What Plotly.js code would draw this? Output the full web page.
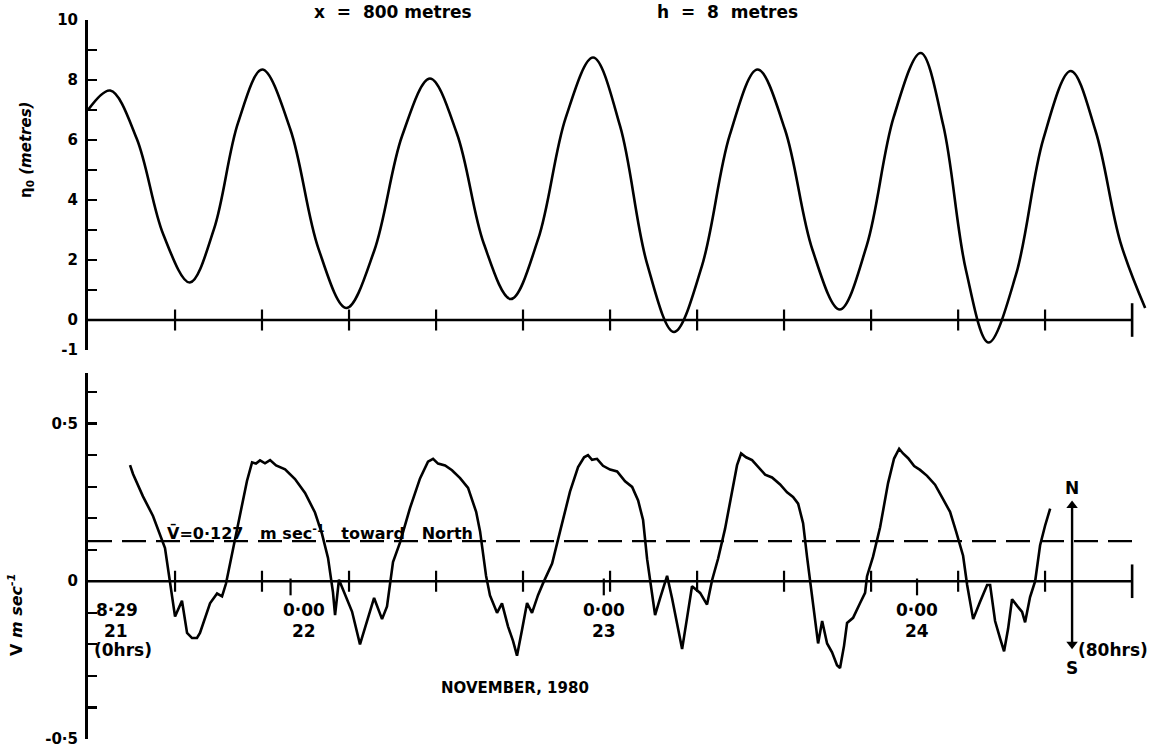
<!DOCTYPE html>
<html>
<head>
<meta charset="utf-8">
<script src="https://cdn.plot.ly/plotly-3.0.1.min.js"></script>
<style>html,body{margin:0;padding:0;background:#fff;}#chart{width:1160px;height:751px;}</style>
</head>
<body>
<div id="chart"></div>
<script>
// ---- data (hours after 8:29, 21 Nov 1980) ----
const tideHours = [0, 1.7, 3.73, 5.77, 7.8, 9.65, 11.5, 13.35, 15.5, 17.65, 19.8, 21.93, 24.07, 26.2, 28.27, 30.33, 32.4, 34.5, 36.6, 38.7, 40.77, 42.83, 44.9, 47.03, 49.17, 51.3, 53.4, 55.5, 57.6, 59.67, 61.73, 63.8, 65.53, 67.27, 69.0, 71.1, 73.2, 75.3, 77.2, 79.1, 81.0];
const tideLevel = [7.0, 7.65, 6.05, 2.85, 1.25, 3.03, 6.58, 8.35, 6.36, 2.39, 0.4, 2.31, 6.14, 8.05, 6.21, 2.54, 0.7, 2.71, 6.74, 8.75, 6.46, 1.89, -0.4, 1.79, 6.16, 8.35, 6.35, 2.35, 0.35, 2.49, 6.76, 8.9, 6.49, 1.66, -0.75, 1.51, 6.04, 8.3, 6.3, 2.6, 0.4];

const velHours = [3.22, 3.45, 4.21, 4.98, 5.90, 6.28, 6.67, 7.20, 7.59, 7.97, 8.35, 8.58, 9.35, 9.89, 10.27, 10.57, 11.03, 11.65, 12.18, 12.57, 12.87, 13.18, 13.56, 13.95, 14.41, 15.10, 15.86, 16.63, 17.39, 17.93, 18.39, 18.77, 18.93, 19.23, 20.23, 20.84, 21.38, 21.92, 22.53, 22.91, 23.37, 23.91, 24.67, 25.44, 26.05, 26.44, 26.82, 27.36, 27.89, 28.51, 29.12, 29.74, 30.04, 30.50, 30.80, 31.34, 31.72, 32.18, 32.57, 32.87, 33.26, 33.64, 34.02, 34.48, 34.87, 35.56, 36.17, 36.93, 37.55, 38.01, 38.31, 38.62, 39.00, 39.46, 40.00, 40.54, 41.15, 41.69, 42.15, 42.53, 42.84, 43.14, 43.45, 43.83, 44.37, 44.75, 45.13, 45.52, 45.90, 46.28, 46.90, 47.43, 47.82, 48.28, 48.81, 49.35, 49.73, 50.04, 50.42, 50.88, 51.34, 51.88, 52.41, 53.03, 53.56, 54.02, 54.41, 54.79, 55.10, 55.40, 55.71, 55.94, 56.25, 56.63, 57.01, 57.39, 57.62, 57.93, 58.16, 58.62, 59.16, 59.54, 59.69, 60.15, 60.69, 61.30, 61.76, 62.15, 62.45, 62.84, 63.30, 63.75, 64.29, 64.90, 65.44, 66.05, 66.51, 66.82, 67.05, 67.36, 67.82, 68.35, 68.89, 69.12, 69.50, 69.89, 70.19, 70.50, 70.80, 71.19, 71.57, 71.80, 72.18, 72.57, 72.95, 73.33, 73.72];
const velValues = [0.368, 0.34, 0.269, 0.207, 0.105, -0.01, -0.112, -0.062, -0.164, -0.18, -0.18, -0.164, -0.07, -0.039, -0.048, -0.008, 0.086, 0.21, 0.318, 0.377, 0.373, 0.383, 0.374, 0.384, 0.367, 0.355, 0.324, 0.28, 0.218, 0.15, 0.074, -0.035, -0.107, 0.005, -0.096, -0.2, -0.127, -0.053, -0.12, -0.08, 0.061, 0.123, 0.232, 0.326, 0.379, 0.388, 0.373, 0.367, 0.352, 0.327, 0.296, 0.22, 0.158, 0.017, -0.045, -0.10, -0.07, -0.143, -0.19, -0.236, -0.153, -0.069, -0.10, -0.044, -0.006, 0.056, 0.158, 0.284, 0.362, 0.393, 0.40, 0.385, 0.388, 0.366, 0.354, 0.348, 0.317, 0.299, 0.256, 0.194, 0.07, -0.023, -0.107, -0.054, 0.017, -0.054, -0.131, -0.215, -0.116, -0.016, -0.037, -0.074, 0.004, 0.072, 0.166, 0.29, 0.368, 0.405, 0.393, 0.384, 0.362, 0.338, 0.329, 0.307, 0.282, 0.267, 0.246, 0.184, 0.075, -0.018, -0.132, -0.197, -0.126, -0.197, -0.225, -0.266, -0.275, -0.204, -0.132, -0.116, -0.069, -0.037, 0.016, 0.078, 0.171, 0.311, 0.389, 0.42, 0.405, 0.39, 0.365, 0.353, 0.334, 0.306, 0.266, 0.22, 0.158, 0.112, 0.081, -0.012, -0.12, -0.065, -0.012, -0.012, -0.126, -0.182, -0.222, -0.15, -0.057, -0.078, -0.097, -0.13, -0.05, 0.0, 0.114, 0.176, 0.23];

const meanV = 0.127;
const axisTickHours = [6.67, 13.33, 20, 26.67, 33.33, 40, 46.67, 53.33, 60, 66.67, 73.33];
const axisEndHours = 80;
const dayTickHours = [15.52, 39.52, 63.52];
const dayLabels = ['22', '23', '24'];
const startLabels = ['8·29', '21', '(0hrs)'];
const northSouthHour = 75.4;
const northSouthV = [-0.2, 0.24];

const tideTicks = [-1, 0, 2, 4, 6, 8, 10];
const tideTickText = ['-1', '0', '2', '4', '6', '8', '10'];
const velTicks = [-0.5, 0, 0.5];
const velTickText = ['-0·5', '0', '0·5'];

// ---- drawing ----
const FONT = 'DejaVu Sans';
const K = 'black';
const zeros = n => n.map(() => 0);

const traces = [
  {x: tideHours, y: tideLevel, xaxis: 'x', yaxis: 'y', mode: 'lines', line: {shape: 'spline', smoothing: 1, width: 2.6, color: K}},
  {x: [0, axisEndHours], y: [0, 0], xaxis: 'x', yaxis: 'y', mode: 'lines', line: {width: 2.6, color: K}},
  {x: axisTickHours, y: zeros(axisTickHours), xaxis: 'x', yaxis: 'y', mode: 'markers', marker: {symbol: 'line-ns', size: 15, line: {width: 2.2, color: K}}},
  {x: [axisEndHours], y: [0], xaxis: 'x', yaxis: 'y', mode: 'markers', marker: {symbol: 'line-ns', size: 24, line: {width: 2.6, color: K}}},

  {x: velHours, y: velValues, xaxis: 'x', yaxis: 'y2', mode: 'lines', line: {width: 2.6, color: K}},
  {x: [0, axisEndHours], y: [0, 0], xaxis: 'x', yaxis: 'y2', mode: 'lines', line: {width: 2.6, color: K}},
  {x: axisTickHours, y: zeros(axisTickHours), xaxis: 'x', yaxis: 'y2', mode: 'markers', marker: {symbol: 'line-ns', size: 15, line: {width: 2.2, color: K}}},
  {x: [axisEndHours], y: [0], xaxis: 'x', yaxis: 'y2', mode: 'markers', marker: {symbol: 'line-ns', size: 24, line: {width: 2.6, color: K}}},
  {x: dayTickHours, y: dayTickHours.map(() => -0.018), xaxis: 'x', yaxis: 'y2', mode: 'markers', marker: {symbol: 'line-ns', size: 12, line: {width: 2.2, color: K}}},
  {x: [0, axisEndHours], y: [meanV, meanV], xaxis: 'x', yaxis: 'y2', mode: 'lines', line: {width: 2.2, color: K, dash: '24px,10px'}},
  {x: [northSouthHour, northSouthHour], y: northSouthV, xaxis: 'x', yaxis: 'y2', mode: 'lines+markers',
   line: {width: 2.4, color: K}, marker: {symbol: ['triangle-down', 'triangle-up'], size: 10, color: K}}
];

const bold = (s) => '<b>' + s + '</b>';
const ann = [];
function addText(text, x, y, opts) {
  ann.push(Object.assign({text: text, x: x, y: y, xref: 'x', yref: 'y2', showarrow: false,
    xanchor: 'center', yanchor: 'middle', font: {family: FONT, size: 17, color: K, weight: 'bold'}}, opts || {}));
}
// labels under the velocity axis
addText(bold(startLabels[0]), 2.22, -0.092);
addText(bold(startLabels[1]), 2.15, -0.158);
addText(bold(startLabels[2]), 2.68, -0.218);
dayTickHours.forEach((h, i) => {
  const cx = h + (i === 0 ? 1.0 : 0);
  addText(bold('0·00'), cx, -0.092);
  addText(bold(dayLabels[i]), cx, -0.158);
});
addText(bold('N'), northSouthHour, 0.295);
addText(bold('S'), northSouthHour, -0.275);
addText(bold('(80hrs)'), northSouthHour + 0.3, -0.218, {xanchor: 'left'});
addText(bold('V\u0304=0·127\u00a0\u00a0\u00a0m\u00a0sec<sup>-1</sup>\u00a0\u00a0\u00a0toward\u00a0\u00a0\u00a0North'), 5.9, meanV,
  {xanchor: 'left', yanchor: 'bottom', yshift: -4, font: {family: FONT, size: 16, color: K, weight: 'bold'}});

// paper-positioned texts (pixel helpers: plot spans x 88..1153, y 20..739)
function paperText(text, px, py, opts) {
  ann.push(Object.assign({text: text, x: (px - 88) / 1065, y: (739 - py) / 719, xref: 'paper', yref: 'paper',
    showarrow: false, xanchor: 'center', yanchor: 'middle', font: {family: FONT, size: 15, color: K, weight: 'bold'}}, opts || {}));
}
paperText(bold('x\u00a0\u00a0=\u00a0\u00a0800\u00a0metres'), 393, 0, {yanchor: 'top', font: {family: FONT, size: 17, color: K, weight: 'bold'}});
paperText(bold('h\u00a0\u00a0=\u00a0\u00a08\u00a0\u00a0metres'), 727, 0, {yanchor: 'top', font: {family: FONT, size: 17, color: K, weight: 'bold'}});
paperText(bold('η<sub>0</sub> <i>(metres)</i>'), 27, 150, {textangle: -90});
paperText(bold('V <i>m sec<sup>-1</sup></i>'), 15, 615, {textangle: -90, font: {family: FONT, size: 16, color: K, weight: 'bold'}});
paperText(bold('NOVEMBER, 1980'), 515, 688);

const yCommon = {
  ticks: 'inside', ticklen: 9, tickwidth: 2.2, tickcolor: K,
  showline: true, linewidth: 3, linecolor: K, showgrid: false, zeroline: false,
  tickfont: {family: FONT, size: 15, color: K, weight: 'bold'}, ticklabelstandoff: 4,
  ticklabeloverflow: 'allow', anchor: 'x', fixedrange: true
};

const layout = {
  width: 1160, height: 751,
  margin: {l: 88, r: 7, t: 20, b: 12, pad: 0},
  paper_bgcolor: 'white', plot_bgcolor: 'white',
  showlegend: false,
  xaxis: {range: [0, 81.6], visible: false, showgrid: false, zeroline: false, anchor: 'y2', fixedrange: true},
  yaxis: Object.assign({}, yCommon, {domain: [0.5410, 1], range: [-1, 10], tickmode: 'array', tickvals: tideTicks, ticktext: tideTickText,
    minor: {tickmode: 'linear', tick0: 0, dtick: 1, ticks: 'inside', ticklen: 9, tickwidth: 2.2, tickcolor: K, showgrid: false}}),
  yaxis2: Object.assign({}, yCommon, {domain: [0, 0.509], range: [-0.5, 0.66], tickmode: 'array', tickvals: velTicks, ticktext: velTickText,
    minor: {tickmode: 'linear', tick0: 0, dtick: 0.1, ticks: 'inside', ticklen: 9, tickwidth: 2.2, tickcolor: K, showgrid: false}}),
  annotations: ann
};

Plotly.newPlot('chart', traces, layout, {displayModeBar: false, staticPlot: true});
</script>
</body>
</html>
